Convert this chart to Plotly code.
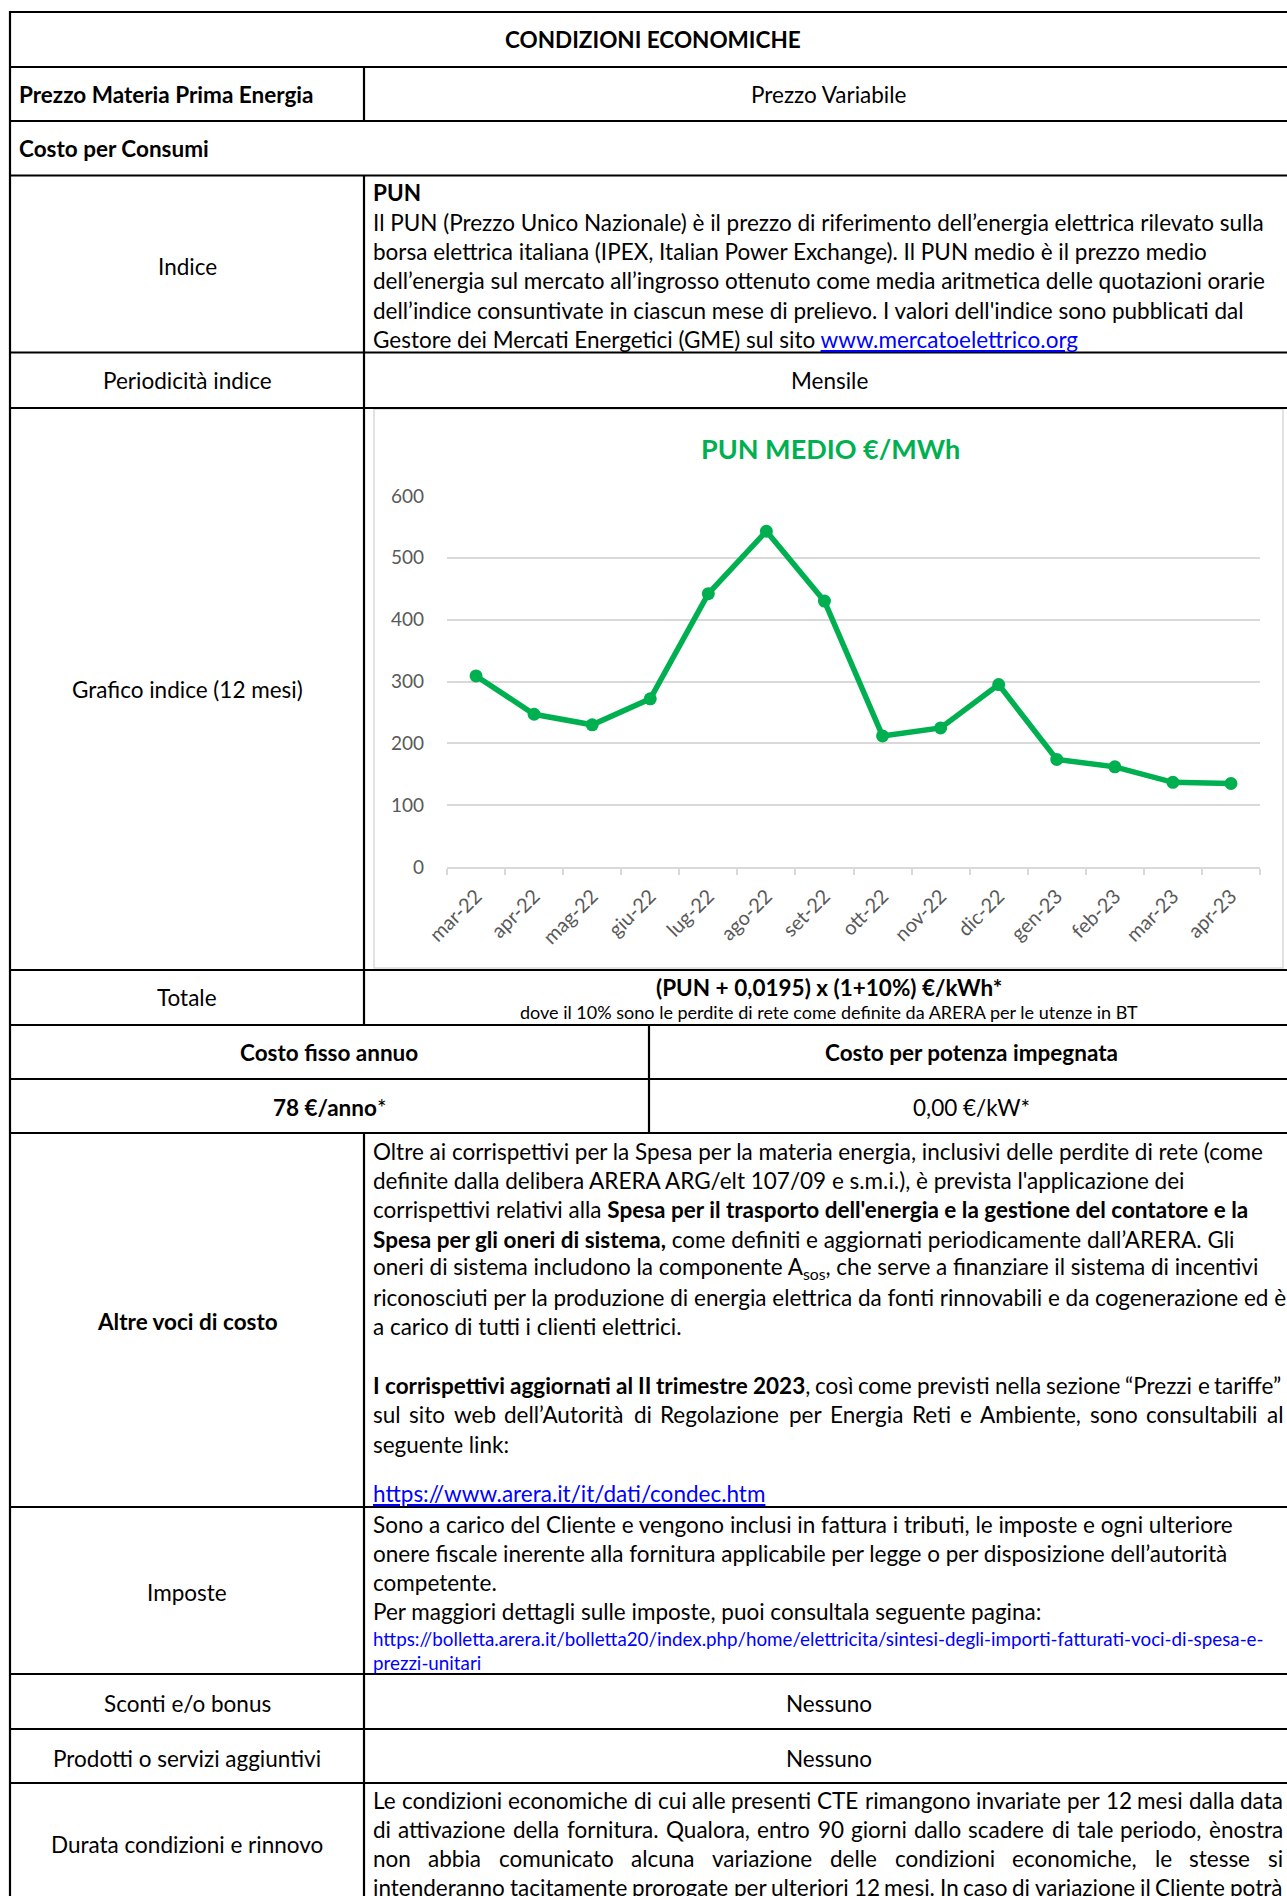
import glob
import struct
import plotly.graph_objects as go

W, H = 1287, 1896

# ---------------- data ----------------
months = ["mar-22", "apr-22", "mag-22", "giu-22", "lug-22", "ago-22", "set-22",
          "ott-22", "nov-22", "dic-22", "gen-23", "feb-23", "mar-23", "apr-23"]
pun_medio = [309, 247, 230, 272, 442, 543, 430, 212, 225, 295, 174, 162, 137, 135]
y_ticks = [0, 100, 200, 300, 400, 500, 600]
chart_title = "PUN MEDIO €/MWh"

GREEN = "#00B050"
FONT = "Lato"
FS = 22.5        # body font size
LINK = "#0000FF"


def X(px):
    return px / W


def Y(py):
    return 1 - py / H


# ---------- font metrics (for justified paragraphs) ----------
def _load_font(name):
    pats = ["/usr/share/fonts/**/%s.ttf", "/usr/share/fonts/**/%s.otf",
            "/usr/local/share/fonts/**/%s.ttf", "/usr/local/share/fonts/**/%s.otf"]
    for p in pats:
        hits = glob.glob(p % name, recursive=True)
        if hits:
            try:
                return _parse_font(hits[0])
            except Exception:
                return None
    return None


def _parse_font(path):
    with open(path, "rb") as f:
        d = f.read()
    u16 = lambda o: struct.unpack(">H", d[o:o + 2])[0]
    u32 = lambda o: struct.unpack(">I", d[o:o + 4])[0]
    n = u16(4)
    tables = {}
    for i in range(n):
        b = 12 + 16 * i
        tables[d[b:b + 4].decode("latin1")] = u32(b + 8)
    upem = u16(tables["head"] + 18)
    nh = u16(tables["hhea"] + 34)
    ho = tables["hmtx"]
    adv = [u16(ho + 4 * i) for i in range(nh)]
    co = tables["cmap"]
    nsub = u16(co + 2)
    sub = None
    for i in range(nsub):
        pid, eid = u16(co + 4 + 8 * i), u16(co + 6 + 8 * i)
        off = u32(co + 8 + 8 * i)
        if u16(co + off) == 4 and pid in (0, 3):
            sub = co + off
            if pid == 3 and eid == 1:
                break
    cmap = {}
    seg2 = u16(sub + 6)
    ends = sub + 14
    starts = ends + seg2 + 2
    deltas = starts + seg2
    ros = deltas + seg2
    for s in range(seg2 // 2):
        e, st, dl, ro = u16(ends + 2 * s), u16(starts + 2 * s), u16(deltas + 2 * s), u16(ros + 2 * s)
        if st > 0x2200:
            continue
        for c in range(st, min(e, 0x2200) + 1):
            if ro == 0:
                g = (c + dl) & 0xFFFF
            else:
                g = u16(ros + 2 * s + ro + 2 * (c - st))
                if g:
                    g = (g + dl) & 0xFFFF
            cmap[c] = g
    return (upem, adv, cmap)


FONT_REG = _load_font("Lato-Regular")
FONT_BOLD = _load_font("Lato-Bold")


def text_width(s, bold, size):
    m = FONT_BOLD if bold else FONT_REG
    upem, adv, cmap = m
    tot = 0
    for ch in s:
        g = cmap.get(ord(ch), 0)
        tot += adv[min(g, len(adv) - 1)]
    return tot * size / upem


def tokenize(s):
    tokens, cur, buf, bold, i = [], [], "", False, 0

    def flush():
        nonlocal buf
        if buf:
            cur.append((buf, bold))
            buf = ""
    while i < len(s):
        if s.startswith("<b>", i):
            flush(); bold = True; i += 3; continue
        if s.startswith("</b>", i):
            flush(); bold = False; i += 4; continue
        if s[i] == " ":
            flush()
            if cur:
                tokens.append(cur)
                cur = []
            i += 1
            continue
        buf += s[i]
        i += 1
    flush()
    if cur:
        tokens.append(cur)
    return tokens


fig = go.Figure()

fig.add_trace(go.Scatter(
    x=months, y=pun_medio, mode="lines+markers",
    line=dict(color=GREEN, width=5.5),
    marker=dict(color=GREEN, size=13),
    showlegend=False, hoverinfo="skip",
))

shapes = []
ann = []

# chart frame
shapes.append(dict(type="rect", xref="paper", yref="paper",
                   x0=X(374), x1=X(1283), y0=Y(968), y1=Y(409),
                   line=dict(color="#D9D9D9", width=1.5), fillcolor="white", layer="below"))

# table lines
LW = 2.2
row_lines = [12, 67, 121, 175.5, 352.5, 408, 970, 1025, 1079, 1133, 1507, 1674, 1729, 1783]
for yy in row_lines:
    shapes.append(dict(type="line", xref="paper", yref="paper",
                       x0=X(9), x1=X(1300), y0=Y(yy), y1=Y(yy),
                       line=dict(color="black", width=LW)))
vsegs = [(10, 11, 1900), (364, 67, 121), (364, 175.5, 1025), (364, 1133, 1900), (649, 1025, 1133)]
for xx, a, b in vsegs:
    shapes.append(dict(type="line", xref="paper", yref="paper",
                       x0=X(xx), x1=X(xx), y0=Y(a), y1=Y(b),
                       line=dict(color="black", width=LW)))


def text(x, y, s, anchor="center", size=FS, color="black"):
    ann.append(dict(x=X(x), y=Y(y), xref="paper", yref="paper", text=s,
                    showarrow=False, xanchor=anchor, yanchor="middle",
                    borderpad=0, borderwidth=0,
                    font=dict(family=FONT, size=size, color=color)))


def justified(x0, x1, y, s, size=FS):
    if FONT_REG is None or FONT_BOLD is None:
        text(x0, y, s, "left", size)
        return
    toks = tokenize(s)
    widths = [sum(text_width(t, b, size) for t, b in tok) for tok in toks]
    sp = text_width(" ", False, size)
    natural = sum(widths) + sp * (len(toks) - 1)
    gap = sp + (x1 - x0 - natural) / max(len(toks) - 1, 1)
    x = x0
    for tok, w in zip(toks, widths):
        html = "".join("<b>%s</b>" % t if b else t for t, b in tok)
        text(x, y, html, "left", size)
        x += w + gap


def link(s):
    return "<span style='color:%s;text-decoration:underline'>%s</span>" % (LINK, s)


# header rows
text(653, 39.5, "<b>CONDIZIONI ECONOMICHE</b>")
text(19, 94, "<b>Prezzo Materia Prima Energia</b>", "left")
text(829, 94, "Prezzo Variabile")
text(19, 148, "<b>Costo per Consumi</b>", "left")

# Indice
text(187, 266, "Indice")
LX, RX = 373, 1283
indice_lines = [
    "<b>PUN</b>",
    "Il PUN (Prezzo Unico Nazionale) è il prezzo di riferimento dell’energia elettrica rilevato sulla",
    "borsa elettrica italiana (IPEX, Italian Power Exchange). Il PUN medio è il prezzo medio",
    "dell’energia sul mercato all’ingrosso ottenuto come media aritmetica delle quotazioni orarie",
    "dell’indice consuntivate in ciascun mese di prelievo. I valori dell'indice sono pubblicati dal",
    "Gestore dei Mercati Energetici (GME) sul sito " + link("www.mercatoelettrico.org"),
]
for i, s in enumerate(indice_lines):
    text(LX, 193 + i * 29.3, s, "left")

text(187, 381, "Periodicità indice")
text(829, 381, "Mensile")
text(187, 690, "Grafico indice (12 mesi)")

# Totale
text(187, 998, "Totale")
text(829, 987, "<b>(PUN + 0,0195) x (1+10%) €/kWh*</b>")
text(829, 1012, "dove il 10% sono le perdite di rete come definite da ARERA per le utenze in BT", size=18)

# costo fisso
text(329, 1052, "<b>Costo fisso annuo</b>")
text(971, 1052, "<b>Costo per potenza impegnata</b>")
text(329, 1107, "<b>78 €/anno</b>*")
text(971, 1107, "0,00 €/kW*")

# Altre voci
text(187, 1321, "<b>Altre voci di costo</b>")
altre_lines = [
    "Oltre ai corrispettivi per la Spesa per la materia energia, inclusivi delle perdite di rete (come",
    "definite dalla delibera ARERA ARG/elt 107/09 e s.m.i.), è prevista l'applicazione dei",
    "corrispettivi relativi alla <b>Spesa per il trasporto dell'energia e la gestione del contatore e la</b>",
    "<b>Spesa per gli oneri di sistema,</b> come definiti e aggiornati periodicamente dall’ARERA. Gli",
    "oneri di sistema includono la componente A<sub>sos</sub>, che serve a finanziare il sistema di incentivi",
    "riconosciuti per la produzione di energia elettrica da fonti rinnovabili e da cogenerazione ed è",
    "a carico di tutti i clienti elettrici.",
]
for i, s in enumerate(altre_lines):
    text(LX, 1151.5 + i * 29.2, s, "left")
altre_just = [
    "<b>I corrispettivi aggiornati al II trimestre 2023</b>, così come previsti nella sezione “Prezzi e tariffe”",
    "sul sito web dell’Autorità di Regolazione per Energia Reti e Ambiente, sono consultabili al",
]
for i, s in enumerate(altre_just):
    justified(LX, RX, 1385.5 + i * 29.2, s)
text(LX, 1444, "seguente link:", "left")
text(LX, 1493, link("https://www.arera.it/it/dati/condec.htm"), "left")

# Imposte
text(187, 1592, "Imposte")
imposte_lines = [
    "Sono a carico del Cliente e vengono inclusi in fattura i tributi, le imposte e ogni ulteriore",
    "onere fiscale inerente alla fornitura applicabile per legge o per disposizione dell’autorità",
    "competente.",
    "Per maggiori dettagli sulle imposte, puoi consultala seguente pagina:",
]
for i, s in enumerate(imposte_lines):
    text(LX, 1524 + i * 29.1, s, "left")
text(LX, 1638, "https://bolletta.arera.it/bolletta20/index.php/home/elettricita/sintesi-degli-importi-fatturati-voci-di-spesa-e-",
     "left", size=18.8, color=LINK)
text(LX, 1662, "prezzi-unitari", "left", size=18.8, color=LINK)

text(187, 1703, "Sconti e/o bonus")
text(829, 1703, "Nessuno")
text(187, 1758, "Prodotti o servizi aggiuntivi")
text(829, 1758, "Nessuno")

text(187, 1844, "Durata condizioni e rinnovo")
durata_lines = [
    "Le condizioni economiche di cui alle presenti CTE rimangono invariate per 12 mesi dalla data",
    "di attivazione della fornitura. Qualora, entro 90 giorni dallo scadere di tale periodo, ènostra",
    "non abbia comunicato alcuna variazione delle condizioni economiche, le stesse si",
    "intenderanno tacitamente prorogate per ulteriori 12 mesi. In caso di variazione il Cliente potrà",
]
for i, s in enumerate(durata_lines):
    justified(LX, RX, 1800 + i * 29.3, s)

# chart title
text(830, 448, "<b>%s</b>" % chart_title, size=27, color=GREEN)

fig.update_layout(
    width=W, height=H, margin=dict(l=0, r=0, t=0, b=0, pad=0, autoexpand=False),
    paper_bgcolor="white", plot_bgcolor="rgba(0,0,0,0)",
    font=dict(family=FONT, size=FS, color="black"),
    shapes=shapes, annotations=ann,
    xaxis=dict(domain=[X(447), X(1260)], type="category", categoryorder="array",
               categoryarray=months, range=[-0.5, len(months) - 0.5], automargin=False,
               showgrid=False, showline=True, linecolor="#D9D9D9", linewidth=1.5,
               ticks="outside", tickson="boundaries", ticklen=6, tickcolor="#D9D9D9",
               tickwidth=1.5, tickangle=-45, ticklabelstandoff=8,
               tickfont=dict(family=FONT, size=20, color="#595959"), zeroline=False),
    yaxis=dict(domain=[Y(867), Y(496)], range=[0, 600], tickvals=y_ticks, automargin=False,
               showgrid=True, gridcolor="#D9D9D9", gridwidth=1.6, showline=False,
               zeroline=False, ticks="", ticklabelstandoff=22,
               tickfont=dict(family=FONT, size=19, color="#595959")),
)

fig.write_html("out.html", config={"displayModeBar": False},
               post_script="document.body.style.margin='0';document.body.style.overflow='hidden';")
